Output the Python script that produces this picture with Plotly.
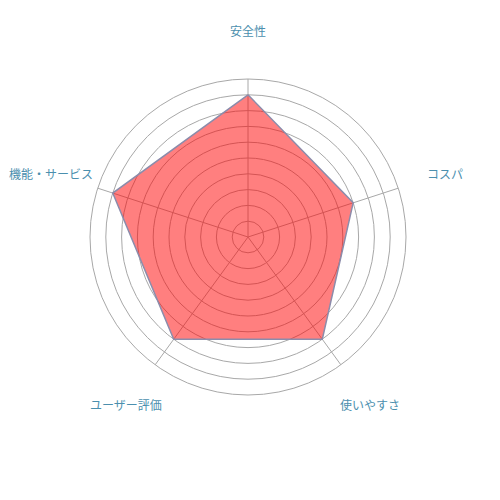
import math
import plotly.graph_objects as go

# data
categories = ["安全性", "コスパ", "使いやすさ", "ユーザー評価", "機能・サービス"]
scores = [9, 7, 8, 8, 9]
r_max = 10

theta = categories + categories[:1]
r = scores + scores[:1]

fig = go.Figure()
fig.add_trace(go.Scatterpolar(
    r=r,
    theta=theta,
    mode="lines",
    fill="toself",
    fillcolor="rgba(255,0,0,0.5)",
    line=dict(color="#8c8cab", width=1.5),
    hoverinfo="skip",
))

# category labels sit further out than plotly's own tick labels,
# so place them as annotations around the circle (paper coords of the square domain)
label_r = 0.5 * 207 / 158
for i, name in enumerate(categories):
    ang = math.radians(90 - i * 360 / len(categories))
    fig.add_annotation(
        x=0.5 + label_r * math.cos(ang),
        y=0.5 + label_r * math.sin(ang),
        xref="paper", yref="paper",
        text=name,
        showarrow=False,
        xanchor="center", yanchor="middle",
        font=dict(size=12, color="#4b8fae"),
    )

fig.update_layout(
    width=500,
    height=500,
    paper_bgcolor="white",
    showlegend=False,
    margin=dict(l=82, r=102, t=71, b=113),
    font=dict(family="Noto Sans CJK JP", size=12, color="#4b8fae"),
    polar=dict(
        bgcolor="white",
        domain=dict(x=[0, 1], y=[0, 1]),
        radialaxis=dict(
            range=[0, r_max],
            dtick=1,
            showticklabels=False,
            ticks="",
            showline=False,
            gridcolor="#a8a8a8",
            gridwidth=1,
        ),
        angularaxis=dict(
            direction="clockwise",
            rotation=90,
            linecolor="#a8a8a8",
            gridcolor="#a8a8a8",
            showticklabels=False,
            ticks="",
        ),
    ),
)

fig.write_html("out.html")
